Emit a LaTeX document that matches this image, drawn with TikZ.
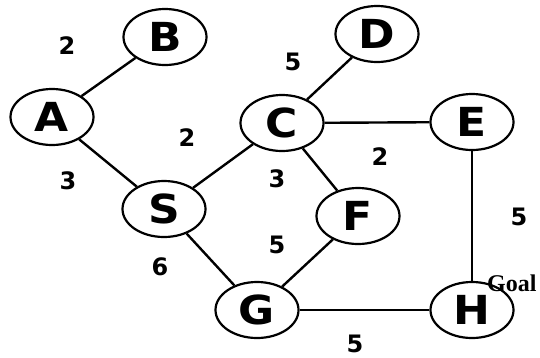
\documentclass[tikz,border=0pt]{standalone}
\usepackage{fontspec}
\setmainfont{DejaVu Sans}
\newfontfamily\nodefont[FakeStretch=1.1]{DejaVu Sans Bold}
\newfontfamily\numfont{DejaVu Sans Bold}
\newfontfamily\goalfont{Liberation Serif Bold}
\usetikzlibrary{shapes.geometric}
\begin{document}
\begin{tikzpicture}[x=1pt,y=-1pt,
  vert/.style={draw=black, line width=2.2pt, ellipse, minimum width=83pt, minimum height=56pt, inner sep=0pt, font=\nodefont\fontsize{40}{40}\selectfont},
  edge/.style={draw=black, line width=2.4pt},
  wt/.style={font=\numfont\fontsize{24}{24}\selectfont, inner sep=0pt}]
\useasboundingbox (0,0) rectangle (540,357);
\node[vert] (B) at (165,37) {B};
\node[vert] (A) at (52,117) {A};
\node[vert] (D) at (377,34) {D};
\node[vert] (C) at (282,123) {C};
\node[vert] (E) at (472,122) {E};
\node[vert] (S) at (164,209) {S};
\node[vert] (F) at (358,216) {F};
\node[vert] (G) at (257,310) {G};
\node[vert] (H) at (472,310) {H};
\draw[edge] (A) -- (B);
\draw[edge] (A) -- (S);
\draw[edge] (S) -- (C);
\draw[edge] (C) -- (D);
\draw[edge] (C) -- (E);
\draw[edge] (C) -- (F);
\draw[edge] (S) -- (G);
\draw[edge] (G) -- (F);
\draw[edge] (G) -- (H);
\draw[edge] (E) -- (H);
\node[wt] (wAB) at (67,46) {2};
\node[wt] (wAS) at (68,181) {3};
\node[wt] (wSC) at (187,138) {2};
\node[wt] (wCD) at (293,62) {5};
\node[wt] (wCF) at (380,157) {2};
\node[wt] (wSF) at (277,179) {3};
\node[wt] (wGF) at (277,245) {5};
\node[wt] (wSG) at (160,267) {6};
\node[wt] (wEH) at (519,217) {5};
\node[wt] (wGH) at (355,344) {5};
\node[font=\goalfont\fontsize{24}{24}\selectfont, inner sep=0pt, anchor=west] (goal) at (487,283) {Goal};
\end{tikzpicture}
\end{document}
